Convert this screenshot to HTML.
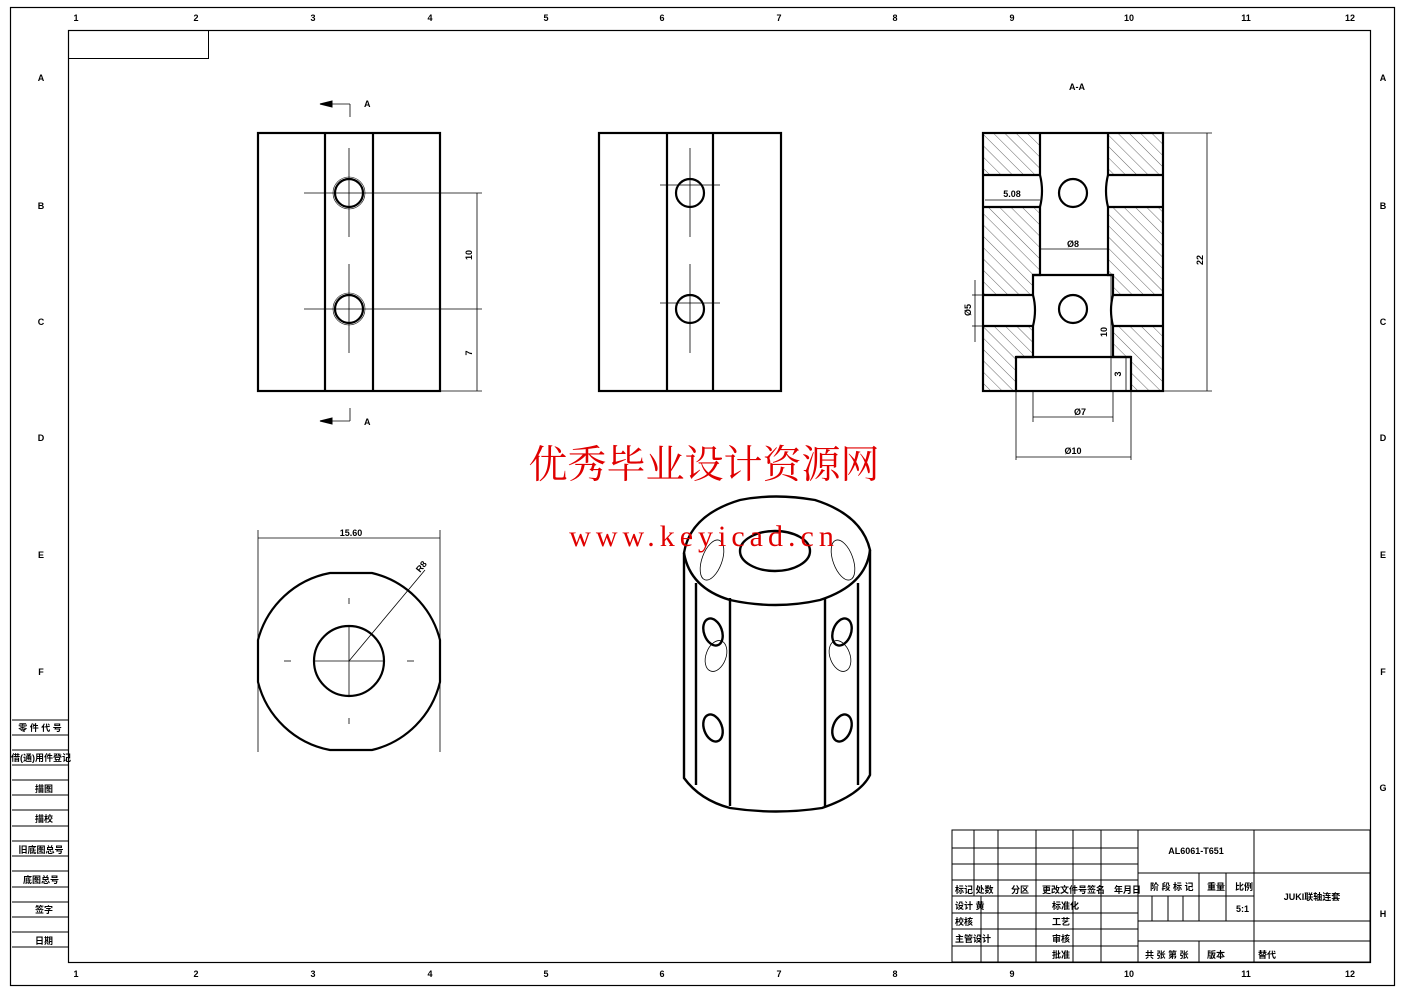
<!DOCTYPE html>
<html><head><meta charset="utf-8"><style>html,body{margin:0;padding:0;background:#fff}svg{display:block}</style></head>
<body>
<svg width="1403" height="992" viewBox="0 0 1403 992" xmlns="http://www.w3.org/2000/svg" font-family="Liberation Sans, Noto Sans CJK SC, sans-serif">
<defs>
<pattern id="h" width="8" height="8" patternUnits="userSpaceOnUse" patternTransform="rotate(-45)"><line x1="0" y1="0" x2="0" y2="8" stroke="#000" stroke-width="0.6"/></pattern>
</defs>
<g fill="none" stroke="#000">
<rect x="10.5" y="7.5" width="1384" height="978" stroke-width="1.2"/>
<rect x="68.5" y="30.5" width="1302" height="932" stroke-width="1.2"/>
<rect x="68.5" y="30.5" width="140" height="28" stroke-width="1"/>
</g>
<g font-size="9" font-weight="bold" text-anchor="middle">
<text x="76" y="21">1</text><text x="196" y="21">2</text><text x="313" y="21">3</text><text x="430" y="21">4</text><text x="546" y="21">5</text><text x="662" y="21">6</text><text x="779" y="21">7</text><text x="895" y="21">8</text><text x="1012" y="21">9</text><text x="1129" y="21">10</text><text x="1246" y="21">11</text><text x="1350" y="21">12</text>
<text x="76" y="977">1</text><text x="196" y="977">2</text><text x="313" y="977">3</text><text x="430" y="977">4</text><text x="546" y="977">5</text><text x="662" y="977">6</text><text x="779" y="977">7</text><text x="895" y="977">8</text><text x="1012" y="977">9</text><text x="1129" y="977">10</text><text x="1246" y="977">11</text><text x="1350" y="977">12</text>
<text x="41" y="81">A</text><text x="41" y="209">B</text><text x="41" y="325">C</text><text x="41" y="441">D</text><text x="41" y="558">E</text><text x="41" y="675">F</text>
<text x="1383" y="81">A</text><text x="1383" y="209">B</text><text x="1383" y="325">C</text><text x="1383" y="441">D</text><text x="1383" y="558">E</text><text x="1383" y="675">F</text><text x="1383" y="791">G</text><text x="1383" y="917">H</text>
</g>
<g stroke="#000" stroke-width="1" fill="none">
<line x1="12" y1="720" x2="68" y2="720"/>
<line x1="12" y1="735" x2="68" y2="735"/><line x1="12" y1="750" x2="68" y2="750"/>
<line x1="12" y1="765" x2="68" y2="765"/><line x1="12" y1="780" x2="68" y2="780"/>
<line x1="12" y1="795" x2="68" y2="795"/><line x1="12" y1="810" x2="68" y2="810"/>
<line x1="12" y1="826" x2="68" y2="826"/><line x1="12" y1="841" x2="68" y2="841"/>
<line x1="12" y1="856" x2="68" y2="856"/><line x1="12" y1="871" x2="68" y2="871"/>
<line x1="12" y1="887" x2="68" y2="887"/><line x1="12" y1="902" x2="68" y2="902"/>
<line x1="12" y1="917" x2="68" y2="917"/><line x1="12" y1="932" x2="68" y2="932"/>
<line x1="12" y1="947" x2="68" y2="947"/>
</g>
<g font-size="9" font-weight="bold" text-anchor="middle">
<text x="40" y="731">零 件 代 号</text><text x="41" y="761">借(通)用件登记</text><text x="44" y="792">描图</text><text x="44" y="822">描校</text><text x="41" y="853">旧底图总号</text><text x="41" y="883">底图总号</text><text x="44" y="913">签字</text><text x="44" y="944">日期</text>
</g>
<g stroke="#000" fill="none">
<rect x="258" y="133" width="182" height="258" stroke-width="2.2"/>
<line x1="325" y1="133" x2="325" y2="391" stroke-width="2.2"/>
<line x1="373" y1="133" x2="373" y2="391" stroke-width="2.2"/>
<circle cx="349" cy="193" r="14" stroke-width="2.2"/><circle cx="349" cy="309" r="14" stroke-width="2.2"/>
<circle cx="349" cy="193" r="16" stroke-width="0.6"/><circle cx="349" cy="309" r="16" stroke-width="0.6"/>
<g stroke-width="0.8">
<line x1="349" y1="148" x2="349" y2="237"/><line x1="349" y1="264" x2="349" y2="353"/>
<line x1="304" y1="193" x2="482" y2="193"/><line x1="304" y1="309" x2="482" y2="309"/>
<line x1="440" y1="391" x2="482" y2="391"/>
<line x1="477" y1="193" x2="477" y2="391"/>
<line x1="350" y1="104" x2="322" y2="104"/><line x1="350" y1="104" x2="350" y2="117"/>
<line x1="350" y1="421" x2="322" y2="421"/><line x1="350" y1="421" x2="350" y2="408"/>
</g>
<path d="M320 104 L332 101 L332 107Z M320 421 L332 418 L332 424Z" fill="#000"/>
</g>
<g font-size="9" font-weight="bold">
<text x="364" y="107">A</text><text x="364" y="425">A</text>
<text transform="translate(472 255) rotate(-90)" text-anchor="middle">10</text>
<text transform="translate(472 353) rotate(-90)" text-anchor="middle">7</text>
</g>
<g stroke="#000" fill="none">
<rect x="599" y="133" width="182" height="258" stroke-width="2.2"/>
<line x1="667" y1="133" x2="667" y2="391" stroke-width="2.2"/>
<line x1="713" y1="133" x2="713" y2="391" stroke-width="2.2"/>
<circle cx="690" cy="193" r="14" stroke-width="2.2"/><circle cx="690" cy="309" r="14" stroke-width="2.2"/>
<g stroke-width="0.8">
<line x1="690" y1="148" x2="690" y2="237"/><line x1="690" y1="264" x2="690" y2="353"/>
<line x1="660" y1="185" x2="720" y2="185"/><line x1="660" y1="303" x2="720" y2="303"/>
</g>
</g>
<g stroke="#000">
<rect x="983" y="133" width="180" height="258" fill="url(#h)" stroke="none"/>
<rect x="1040" y="133" width="68" height="142" fill="#fff" stroke="none"/>
<rect x="1033" y="275" width="80" height="82" fill="#fff" stroke="none"/>
<rect x="1016" y="357" width="115" height="34" fill="#fff" stroke="none"/>
<rect x="983" y="175" width="180" height="32" fill="#fff" stroke="none"/>
<rect x="983" y="295" width="180" height="31" fill="#fff" stroke="none"/>
<g fill="none" stroke-width="2.2">
<rect x="983" y="133" width="180" height="258"/>
<line x1="983" y1="175" x2="1040" y2="175"/><line x1="983" y1="207" x2="1040" y2="207"/>
<line x1="1108" y1="175" x2="1163" y2="175"/><line x1="1108" y1="207" x2="1163" y2="207"/>
<line x1="983" y1="295" x2="1033" y2="295"/><line x1="983" y1="326" x2="1033" y2="326"/>
<line x1="1113" y1="295" x2="1163" y2="295"/><line x1="1113" y1="326" x2="1163" y2="326"/>
<path d="M1040 133 V175 Q1044 191 1040 207 V275 H1033 V295 Q1037 310 1033 326 V357 H1016 V391"/>
<path d="M1108 133 V175 Q1104 191 1108 207 V275 H1113 V295 Q1109 310 1113 326 V357 H1131 V391"/>
<line x1="1033" y1="275" x2="1113" y2="275"/>
<line x1="1016" y1="357" x2="1131" y2="357"/>
<circle cx="1073" cy="193" r="14"/><circle cx="1073" cy="309" r="14"/>
</g>
<g fill="none" stroke-width="0.8">
<line x1="1163" y1="133" x2="1212" y2="133"/><line x1="1163" y1="391" x2="1212" y2="391"/>
<line x1="1207" y1="133" x2="1207" y2="391"/>
<line x1="985" y1="200" x2="1040" y2="200"/>
<line x1="1040" y1="249" x2="1108" y2="249"/>
<line x1="1033" y1="391" x2="1033" y2="422"/><line x1="1113" y1="391" x2="1113" y2="422"/>
<line x1="1033" y1="417" x2="1113" y2="417"/>
<line x1="1016" y1="391" x2="1016" y2="460"/><line x1="1131" y1="391" x2="1131" y2="460"/>
<line x1="1016" y1="457" x2="1131" y2="457"/>
<line x1="972" y1="295" x2="983" y2="295"/><line x1="972" y1="326" x2="983" y2="326"/>
<line x1="975" y1="280" x2="975" y2="342"/>
<line x1="1111" y1="275" x2="1111" y2="391"/>
<line x1="1126" y1="357" x2="1126" y2="391"/>
</g>
</g>
<g font-size="9" font-weight="bold" text-anchor="middle">
<text x="1077" y="90">A-A</text>
<text x="1012" y="197">5.08</text>
<text x="1073" y="247">Ø8</text>
<text x="1080" y="415">Ø7</text>
<text x="1073" y="454">Ø10</text>
<text transform="translate(1203 260) rotate(-90)">22</text>
<text transform="translate(971 310) rotate(-90)">Ø5</text>
<text transform="translate(1107 332) rotate(-90)">10</text>
<text transform="translate(1121 374) rotate(-90)">3</text>
</g>
<g stroke="#000" fill="none">
<path d="M330 573 H372 A92 92 0 0 1 440 640 V682 A92 92 0 0 1 372 750 H330 A92 92 0 0 1 258 682 V640 A92 92 0 0 1 330 573Z" stroke-width="2.2"/>
<circle cx="349" cy="661" r="35" stroke-width="2.2"/>
<g stroke-width="0.8">
<line x1="258" y1="538" x2="440" y2="538"/>
<line x1="258" y1="530" x2="258" y2="752"/><line x1="440" y1="530" x2="440" y2="752"/>
<line x1="314" y1="661" x2="384" y2="661"/><line x1="349" y1="627" x2="349" y2="696"/>
<line x1="349" y1="661" x2="425" y2="570"/>
<line x1="284" y1="661" x2="291" y2="661"/><line x1="407" y1="661" x2="414" y2="661"/>
<line x1="349" y1="598" x2="349" y2="604"/><line x1="349" y1="718" x2="349" y2="724"/>
</g>
</g>
<text x="351" y="536" font-size="9" font-weight="bold" text-anchor="middle">15.60</text>
<text x="420" y="573" font-size="9" font-weight="bold" transform="rotate(-50 420 573)">R8</text>
<g stroke="#000" fill="none" stroke-width="2.4">
<path d="M684 553 Q690 515 740 500 Q775 493 815 500 Q862 515 870 550 Q866 585 820 600 Q776 610 730 600 Q690 588 684 553Z"/>
<ellipse cx="775" cy="551" rx="35" ry="20"/>
<path d="M684 553 V778 Q700 800 730 808 Q776 815 822 808 Q860 795 870 775 V550"/>
<line x1="696" y1="583" x2="696" y2="785"/>
<line x1="858" y1="583" x2="858" y2="785"/>
<line x1="730" y1="598" x2="730" y2="806"/>
<line x1="825" y1="598" x2="825" y2="806"/>
<ellipse cx="713" cy="632" rx="9" ry="14" transform="rotate(-20 713 632)"/>
<ellipse cx="842" cy="632" rx="9" ry="14" transform="rotate(20 842 632)"/>
<ellipse cx="713" cy="728" rx="9" ry="14" transform="rotate(-20 713 728)"/>
<ellipse cx="842" cy="728" rx="9" ry="14" transform="rotate(20 842 728)"/>
</g>
<g stroke="#000" fill="none" stroke-width="0.8">
<ellipse cx="712" cy="560" rx="10" ry="21" transform="rotate(20 712 560)"/>
<ellipse cx="843" cy="560" rx="10" ry="21" transform="rotate(-20 843 560)"/>
<ellipse cx="716" cy="656" rx="10" ry="16" transform="rotate(20 716 656)"/>
<ellipse cx="840" cy="656" rx="10" ry="16" transform="rotate(-20 840 656)"/>
</g>
<text x="704" y="478" font-size="39" fill="#e00000" text-anchor="middle" font-family="Liberation Serif, Noto Serif CJK SC, serif">优秀毕业设计资源网</text>
<text x="704" y="546" font-size="30" fill="#e00000" text-anchor="middle" letter-spacing="5" font-family="Liberation Serif, serif">www.keyicad.cn</text>
<g stroke="#000" stroke-width="1" fill="none">
<rect x="952" y="830" width="418" height="132" fill="#fff"/>
<line x1="952" y1="848" x2="1138" y2="848"/><line x1="952" y1="864" x2="1138" y2="864"/>
<line x1="952" y1="880" x2="1138" y2="880"/><line x1="952" y1="896" x2="1138" y2="896"/>
<line x1="952" y1="913" x2="1138" y2="913"/><line x1="952" y1="929" x2="1138" y2="929"/>
<line x1="952" y1="946" x2="1138" y2="946"/>
<line x1="974" y1="830" x2="974" y2="896"/><line x1="998" y1="830" x2="998" y2="962"/>
<line x1="1036" y1="830" x2="1036" y2="962"/><line x1="1073" y1="830" x2="1073" y2="962"/>
<line x1="1101" y1="830" x2="1101" y2="962"/><line x1="1138" y1="830" x2="1138" y2="962"/>
<line x1="981" y1="896" x2="981" y2="962"/>
<line x1="1254" y1="830" x2="1254" y2="962"/>
<line x1="1138" y1="873" x2="1370" y2="873"/>
<line x1="1138" y1="896" x2="1254" y2="896"/>
<line x1="1138" y1="921" x2="1370" y2="921"/>
<line x1="1138" y1="941" x2="1370" y2="941"/>
<line x1="1152" y1="896" x2="1152" y2="921"/><line x1="1168" y1="896" x2="1168" y2="921"/>
<line x1="1183" y1="896" x2="1183" y2="921"/><line x1="1199" y1="873" x2="1199" y2="921"/>
<line x1="1226" y1="873" x2="1226" y2="921"/>
<line x1="1199" y1="941" x2="1199" y2="962"/>
</g>
<g font-size="9" font-weight="bold">
<text x="1196" y="854" text-anchor="middle">AL6061-T651</text>
<text x="955" y="893">标记 处数</text><text x="1011" y="893">分区</text><text x="1042" y="893">更改文件号签名</text><text x="1114" y="893">年月日</text>
<text x="955" y="909">设计 黄</text><text x="1052" y="909">标准化</text>
<text x="955" y="925">校核</text><text x="1052" y="925">工艺</text>
<text x="955" y="942">主管设计</text><text x="1052" y="942">审核</text>
<text x="1052" y="958">批准</text>
<text x="1150" y="890">阶 段 标 记</text><text x="1207" y="890">重量</text><text x="1235" y="890">比例</text>
<text x="1236" y="912">5:1</text>
<text x="1145" y="958">共  张 第  张</text><text x="1207" y="958">版本</text><text x="1258" y="958">替代</text>
<text x="1312" y="900" text-anchor="middle">JUKI联轴连套</text>
</g>
</svg>
</body></html>
